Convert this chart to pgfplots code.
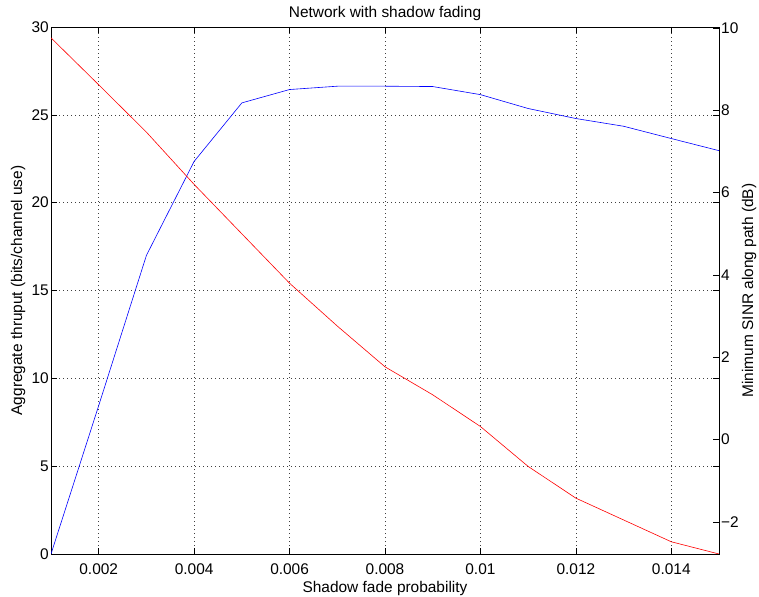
\documentclass[border=0pt]{standalone}
\usepackage{fontspec}
\setmainfont{Liberation Sans}
\usepackage{pgfplots}
\pgfplotsset{compat=1.18}
\usetikzlibrary{calc}
\begin{document}
\begin{tikzpicture}
\pgfplotsset{
  every axis/.append style={
    scale only axis, width=668bp, height=527bp,
    xmin=0.001, xmax=0.015,
    scaled x ticks=false, scaled y ticks=false,
    /pgf/number format/assume math mode=true,
    tick label style={font=\fontsize{15.5}{18}\selectfont},
    yticklabel style={inner sep=2bp},
    xticklabel style={inner sep=2bp, yshift=-8bp},
    label style={font=\fontsize{15.5}{18}\selectfont},
    title style={font=\fontsize{15.5}{18}\selectfont, inner sep=0pt},
    major tick length=6bp,
    tick style={black, line width=0.5bp},
    axis line style={line width=0.8bp},
  }
}
\begin{axis}[
  name=main,
  ymin=0, ymax=30,
  ytick={0,5,10,15,20,25,30},
  xtick={0.002,0.004,0.006,0.008,0.01,0.012,0.014},
  xticklabels={0.002,0.004,0.006,0.008,0.01,0.012,0.014},
  grid=major,
  major grid style={black!75, line width=0.5bp, dash pattern=on 0.8bp off 3.2bp},
  xlabel={Shadow fade probability},
  ylabel={Aggregate thruput (bits/channel use)},
  xlabel style={inner sep=0pt, yshift=-4bp},
  ylabel style={inner sep=0pt, yshift=4bp},
  title={Network with shadow fading},
]
\addplot[blue, line width=0.6bp] coordinates {
(0.001,0) (0.002,8.45) (0.003,17.0) (0.004,22.35) (0.005,25.68)
(0.006,26.44) (0.007,26.63) (0.008,26.63) (0.009,26.61) (0.010,26.15)
(0.011,25.36) (0.012,24.79) (0.013,24.35) (0.014,23.65) (0.015,22.96)
};
\end{axis}
\begin{axis}[
  axis y line*=right,
  axis x line=none,
  ymin=-2.777, ymax=10.024,
  ytick={-2,0,2,4,6,8,10},
  yticklabels={−2,0,2,4,6,8,10},
  ylabel={Minimum SINR along path (dB)},
  ylabel style={inner sep=0pt, yshift=-1bp},
]
\addplot[red, line width=0.6bp] coordinates {
(0.001,9.76) (0.002,8.62) (0.003,7.47) (0.004,6.20) (0.005,5.00)
(0.006,3.80) (0.007,2.76) (0.008,1.77) (0.009,1.09) (0.010,0.32)
(0.011,-0.65) (0.012,-1.42) (0.013,-1.95) (0.014,-2.48) (0.015,-2.777)
};
\end{axis}
\pgfresetboundingbox
\path ($(main.south west)+(-51bp,-43bp)$) rectangle ($(main.north east)+(40bp,27bp)$);
\end{tikzpicture}
\end{document}
